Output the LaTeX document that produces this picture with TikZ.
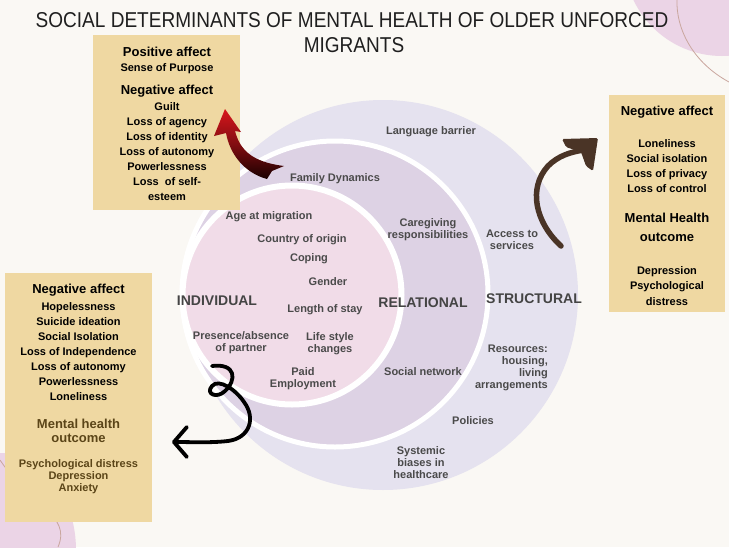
\documentclass[tikz,border=0pt]{standalone}
\usepackage{fontspec}
\setmainfont{Liberation Sans}
\usetikzlibrary{arrows.meta}
\definecolor{bg}{HTML}{FAF8F4}
\definecolor{outerc}{HTML}{E5E2EF}
\definecolor{midc}{HTML}{DDD2E4}
\definecolor{innerc}{HTML}{F1DCE8}
\definecolor{boxc}{HTML}{EFD8A2}
\definecolor{circtext}{HTML}{4A4A4A}
\definecolor{bigtext}{HTML}{444444}
\definecolor{browntext}{HTML}{5B4518}
\definecolor{pinkdeco}{HTML}{EBD4E6}
\definecolor{decoline}{HTML}{C9A69E}
\definecolor{arrowbrown}{HTML}{4A3426}
\definecolor{arrowred}{HTML}{D8161C}
\begin{document}
\begin{tikzpicture}[x=1pt,y=-1pt,
  ctext/.style={font=\fontsize{11}{12}\selectfont\bfseries, text=circtext, align=center, inner sep=0pt},
  bigc/.style={font=\fontsize{14}{16}\selectfont\bfseries, text=bigtext, inner sep=0pt},
  boxhead/.style={font=\fontsize{13}{15}\selectfont\bfseries, inner sep=0pt, align=center},
  boxitem/.style={font=\fontsize{11}{15}\selectfont\bfseries, inner sep=0pt, align=center},
  infobox/.style={fill=boxc, draw=none},
  titletext/.style={font=\fontsize{21.5}{25}\selectfont, text=black!88, inner sep=0pt},
  curly/.style={line width=3.8pt, line cap=round, line join=round, black},
]
\useasboundingbox (0,0) rectangle (729,547);
\clip (0,0) rectangle (729,547);
\fill[bg] (0,0) rectangle (729,547);

% decorative blobs
\fill[pinkdeco] (722,-42) circle[radius=98];
\draw[decoline, line width=0.8pt] (677,0) .. controls (676,28) and (692,62) .. (729,82);
\fill[pinkdeco] (0,550) ellipse[x radius=76, y radius=97];
\draw[decoline, line width=0.8pt] (0,460) .. controls (30,505) and (72,515) .. (58,547);

% circles
\fill[outerc] (383,295) circle[radius=195];
\filldraw[fill=midc, draw=white, line width=5pt] (335,294) circle[radius=153];
\filldraw[fill=innerc, draw=white, line width=6pt] (292,295) circle[radius=109.5];

% boxes
\path[infobox] (93,35) rectangle (240,210);
\path[infobox] (609,95) rectangle (725,312);
\path[infobox] (5,273) rectangle (152,522);

% title
\node[titletext] (title1) at (352,20) {\scalebox{0.885}[1]{SOCIAL DETERMINANTS OF MENTAL HEALTH OF OLDER UNFORCED}};
\node[titletext] (title2) at (354,45) {\scalebox{0.885}[1]{MIGRANTS}};

% top-left box
\node[boxhead] (tl1) at (167,52) {Positive affect};
\node[boxitem] (tl2) at (167,69) {Sense of Purpose};
\node[boxhead] (tl3) at (167,91) {Negative affect};
\node[boxitem] (tl4) at (167,152) {Guilt\\Loss of agency\\Loss of identity\\Loss of autonomy\\Powerlessness\\Loss\ \ of self-\\esteem};

% right box
\node[boxhead] (r1) at (667,112) {Negative affect};
\node[boxitem] (r2) at (667,166.5) {Loneliness\\Social isolation\\Loss of privacy\\Loss of control};
\node[boxhead, font=\fontsize{13}{19}\selectfont\bfseries] (r3) at (667,227) {Mental Health\\outcome};
\node[boxitem, font=\fontsize{11}{15.5}\selectfont\bfseries] (r4) at (667,286) {Depression\\Psychological\\distress};

% left box
\node[boxhead] (l1) at (78.5,290) {Negative affect};
\node[boxitem] (l2) at (78.5,352) {Hopelessness\\Suicide ideation\\Social Isolation\\Loss of Independence\\Loss of autonomy\\Powerlessness\\Loneliness};
\node[boxhead, font=\fontsize{13}{14}\selectfont\bfseries, text=browntext] (l3) at (78.5,431) {Mental health\\outcome};
\node[boxitem, font=\fontsize{11}{12}\selectfont\bfseries, text=browntext] (l4) at (78.5,477) {Psychological distress\\Depression\\Anxiety};

% circle labels
\node[bigc] (ind) at (217,301) {INDIVIDUAL};
\node[bigc] (rel) at (423,303) {RELATIONAL};
\node[bigc] (str) at (534,299) {STRUCTURAL};

\node[ctext] (lang) at (431,132) {Language barrier};
\node[ctext] (fam) at (335,179) {Family Dynamics};
\node[ctext] (age) at (269,217) {Age at migration};
\node[ctext] (coo) at (302,240) {Country of origin};
\node[ctext] (cop) at (309,259) {Coping};
\node[ctext] (gen) at (328,282) {Gender};
\node[ctext] (los) at (325,310) {Length of stay};
\node[ctext] (care) at (428,230) {Caregiving\\responsibilities};
\node[ctext] (acc) at (512,240) {Access to\\services};
\node[ctext] (pres) at (241,343) {Presence/absence\\of partner};
\node[ctext] (life) at (330,344) {Life style\\changes};
\node[ctext] (paid) at (303,379) {Paid\\Employment};
\node[ctext] (soc) at (423,372) {Social network};
\node[ctext, align=right, anchor=east] (res) at (548,368) {Resources:\\housing,\\living\\arrangements};
\node[ctext] (pol) at (473,421) {Policies};
\node[ctext] (sys) at (421,463) {Systemic\\biases in\\healthcare};

% red arrow (shaded tapered shape)
\coordinate (rtip) at (225,109);
\coordinate (rtail) at (284,166);
\shade[top color=arrowred, bottom color=black!90!red, middle color=arrowred!60!black]
  (rtip) -- (241,132) -- (235,131)
  .. controls (240,150) and (252,162) .. (rtail)
  -- (272,171) -- (267,179)
  .. controls (245,173) and (230,155) .. (226,133)
  -- (214,136) -- cycle;

% brown arrow
\coordinate (bstart) at (561,246);
\coordinate (bend) at (584,150);
\coordinate (btip) at (598,138);
\draw[arrowbrown, line width=5.5pt, line cap=round]
  (bstart) .. controls (535,222) and (528,188) .. (548,166) .. controls (558,156) and (570,152) .. (bend);
\fill[arrowbrown, rounded corners=1.5pt]
  (btip) -- (562,139) -- (566,147) -- (581,152) -- (586,166) -- (593,171) -- cycle;

% black curly arrow
\coordinate (cs) at (212,366);
\coordinate (ce) at (172,442);
\draw[curly, -{Straight Barb[length=13pt,width=30pt,round]}]
  (cs) .. controls (236,363) and (237,380) .. (225,391)
  .. controls (217,399) and (205,394) .. (212,386)
  .. controls (219,378) and (236,390) .. (244,402)
  .. controls (256,418) and (250,438) .. (228,441)
  .. controls (210,443) and (192,442) .. (ce);
\end{tikzpicture}
\end{document}
